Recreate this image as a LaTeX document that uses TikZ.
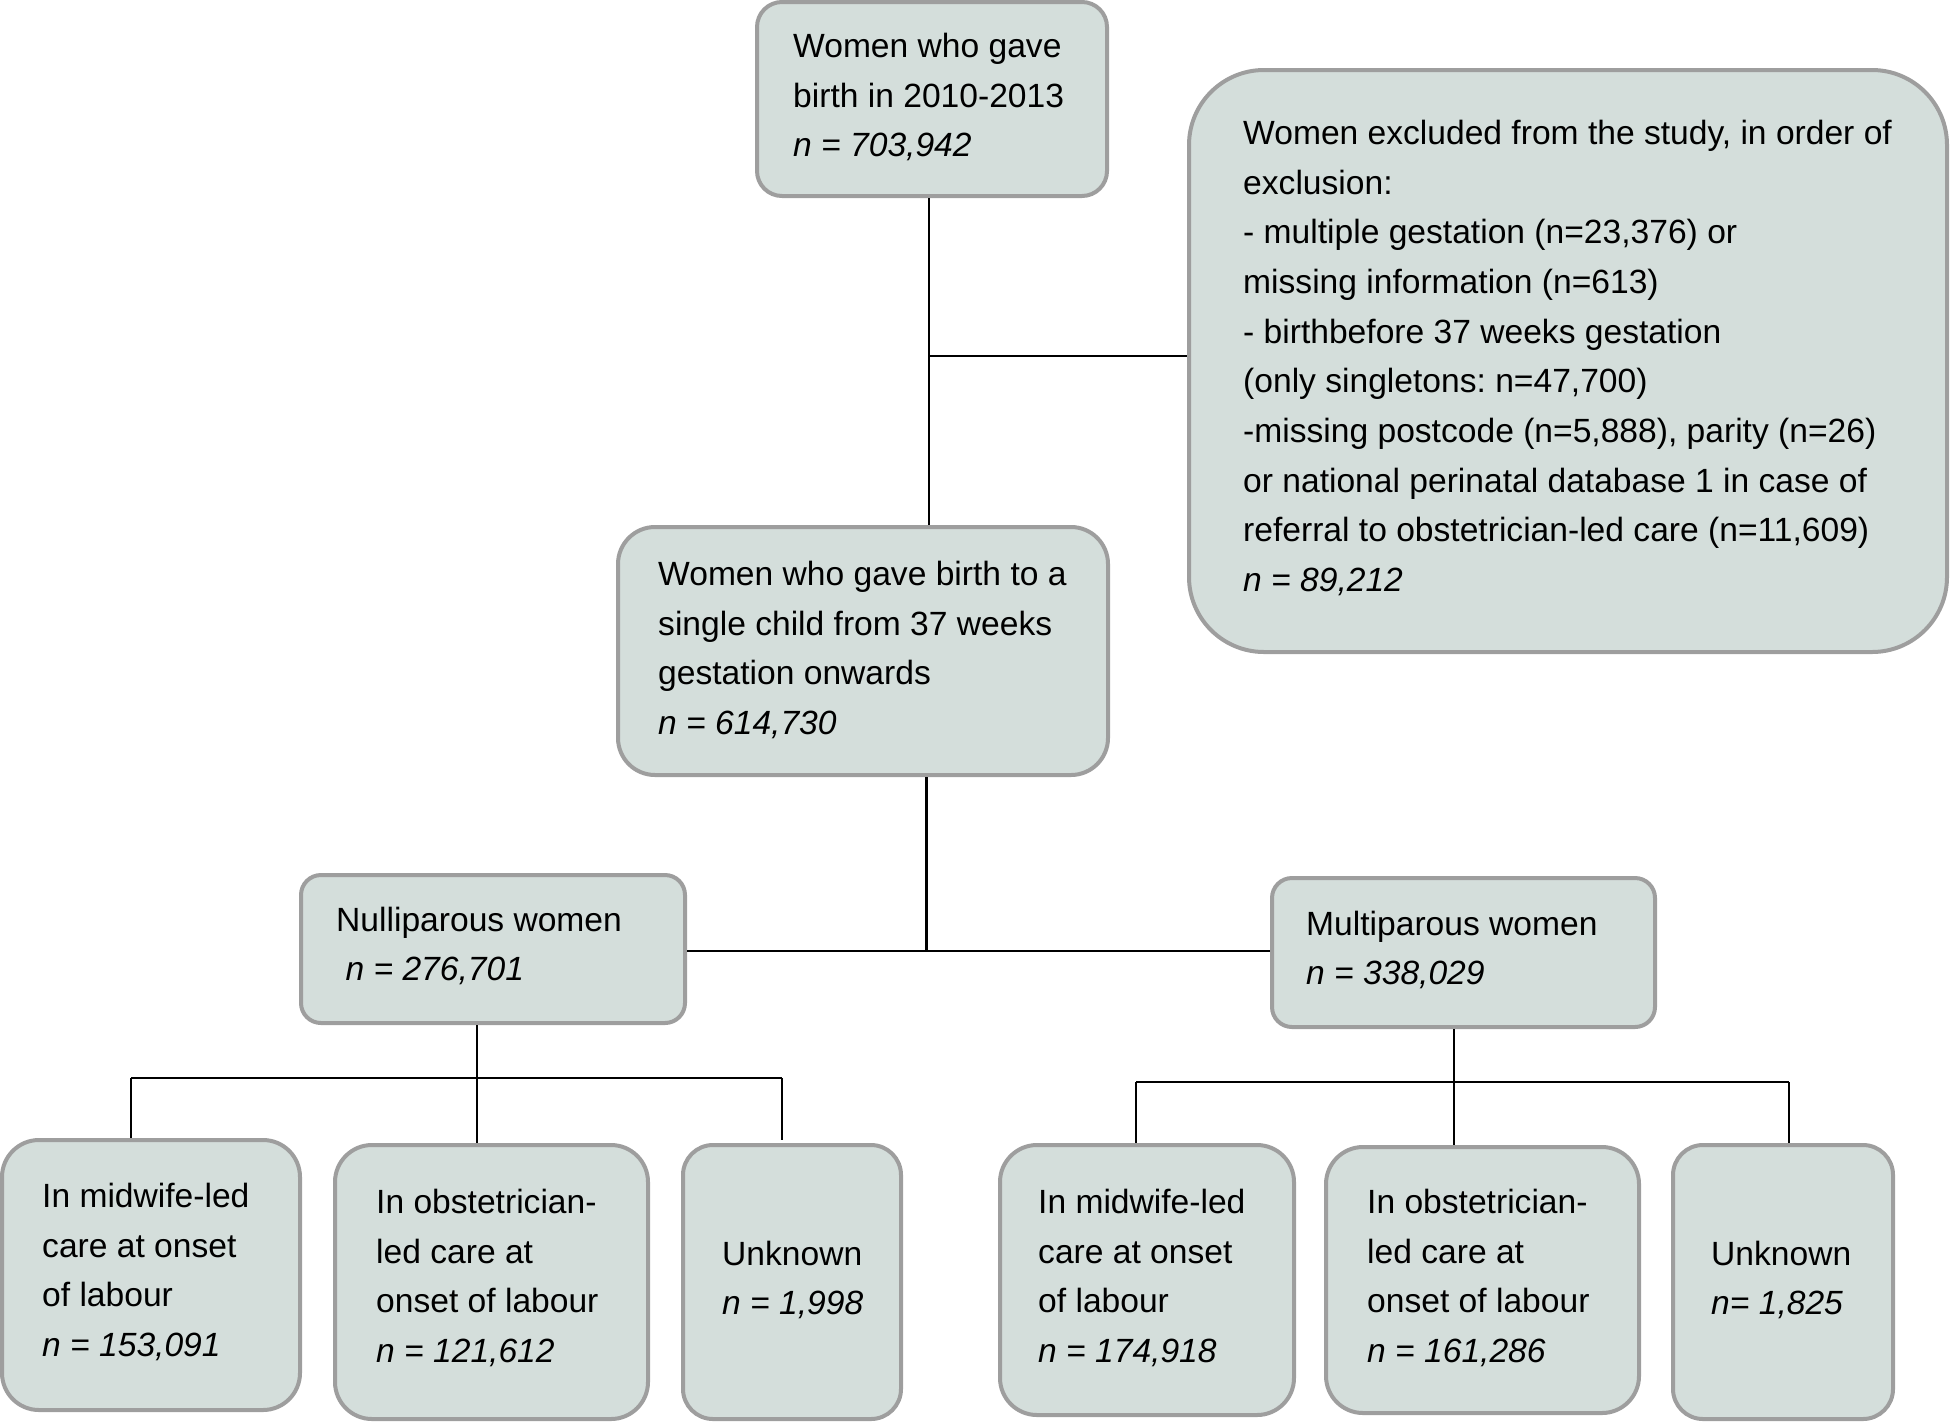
\documentclass[tikz,border=0pt]{standalone}
\usepackage{fontspec}
\setmainfont{Liberation Sans}
\frenchspacing
\definecolor{boxfill}{RGB}{212,222,219}
\definecolor{boxline}{RGB}{158,158,158}
\tikzset{
  boxst/.style={draw=boxline, fill=boxfill, line width=4pt, inner sep=0pt},
  txt/.style={anchor=west, inner sep=0pt, align=left, font=\fontsize{33.6}{49.7}\selectfont},
  conn/.style={draw=black, line width=2.4pt}
}
\begin{document}
\begin{tikzpicture}[x=1pt,y=-1pt]
\useasboundingbox (0,0) rectangle (1950,1422);
% boxes
\node[boxst, minimum width=350, minimum height=194, rounded corners=25] (top) at (932,99) {};
\node[boxst, minimum width=758, minimum height=582, rounded corners=75] (excl) at (1568,361) {};
\node[boxst, minimum width=490, minimum height=248, rounded corners=37] (mid) at (863,651) {};
\node[boxst, minimum width=384, minimum height=148, rounded corners=20] (nulli) at (493,949) {};
\node[boxst, minimum width=383, minimum height=149, rounded corners=20] (multi) at (1463.5,952.5) {};
\node[boxst, minimum width=298, minimum height=270, rounded corners=37] (b1) at (151,1275) {};
\node[boxst, minimum width=313, minimum height=274, rounded corners=37] (b2) at (491.5,1282) {};
\node[boxst, minimum width=218, minimum height=274, rounded corners=30] (b3) at (792,1282) {};
\node[boxst, minimum width=294, minimum height=270, rounded corners=37] (b4) at (1147,1280) {};
\node[boxst, minimum width=313, minimum height=266, rounded corners=37] (b5) at (1482.5,1280) {};
\node[boxst, minimum width=220, minimum height=274, rounded corners=30] (b6) at (1783,1282) {};
% texts
\node[txt] (topt) at (793,97) {Women who gave\\birth in 2010-2013\\\textit{n = 703,942}};
\node[txt] (exclt) at (1243,358) {Women excluded from the study, in order of\\exclusion:\\- multiple gestation (n=23,376) or\\missing information (n=613)\\- birthbefore 37 weeks gestation\\(only singletons: n=47,700)\\-missing postcode (n=5,888), parity (n=26)\\or national perinatal database 1 in case of\\referral to obstetrician-led care (n=11,609)\\\textit{n = 89,212}};
\node[txt] (midt) at (658,650) {Women who gave birth to a\\single child from 37 weeks\\gestation onwards\\\textit{n = 614,730}};
\node[txt] (nullit) at (336,946) {Nulliparous women\\\hspace*{0.28em}\textit{n = 276,701}};
\node[txt] (multit) at (1306,950) {Multiparous women\\\textit{n = 338,029}};
\node[txt] (b1t) at (42,1272) {In midwife-led\\care at onset\\of labour\\\textit{n = 153,091}};
\node[txt] (b2t) at (376,1278) {In obstetrician-\\led care at\\onset of labour\\\textit{n = 121,612}};
\node[txt] (b3t) at (722,1280) {Unknown\\\textit{n = 1,998}};
\node[txt] (b4t) at (1038,1278) {In midwife-led\\care at onset\\of labour\\\textit{n = 174,918}};
\node[txt] (b5t) at (1367,1278) {In obstetrician-\\led care at\\onset of labour\\\textit{n = 161,286}};
\node[txt] (b6t) at (1711,1280) {Unknown\\\textit{n= 1,825}};
% connectors
\coordinate (c1) at (929,356);
\draw[conn] (top.south -| c1) -- (mid.north -| c1);
\draw[conn] (c1) -- (c1 -| excl.west);
\coordinate (c2) at (926.5,951);
\draw[conn] (mid.south -| c2) -- (c2);
\draw[conn] (c2 -| nulli.east) -- (c2 -| multi.west);
\coordinate (c3) at (477,1078);
\coordinate (c3l) at (131,1078);
\coordinate (c3r) at (782,1078);
\coordinate (c3e) at (782,1140);
\draw[conn] (nulli.south -| c3) -- (b2.north -| c3);
\draw[conn] (c3l) -- (c3r);
\draw[conn] (c3l) -- (c3l |- b1.north);
\draw[conn] (c3r) -- (c3e);
\coordinate (c4) at (1454,1082);
\coordinate (c4l) at (1136,1082);
\coordinate (c4r) at (1789,1082);
\draw[conn] (multi.south -| c4) -- (b5.north -| c4);
\draw[conn] (c4l) -- (c4r);
\draw[conn] (c4l) -- (c4l |- b4.north);
\draw[conn] (c4r) -- (c4r |- b6.north);
\end{tikzpicture}
\end{document}
